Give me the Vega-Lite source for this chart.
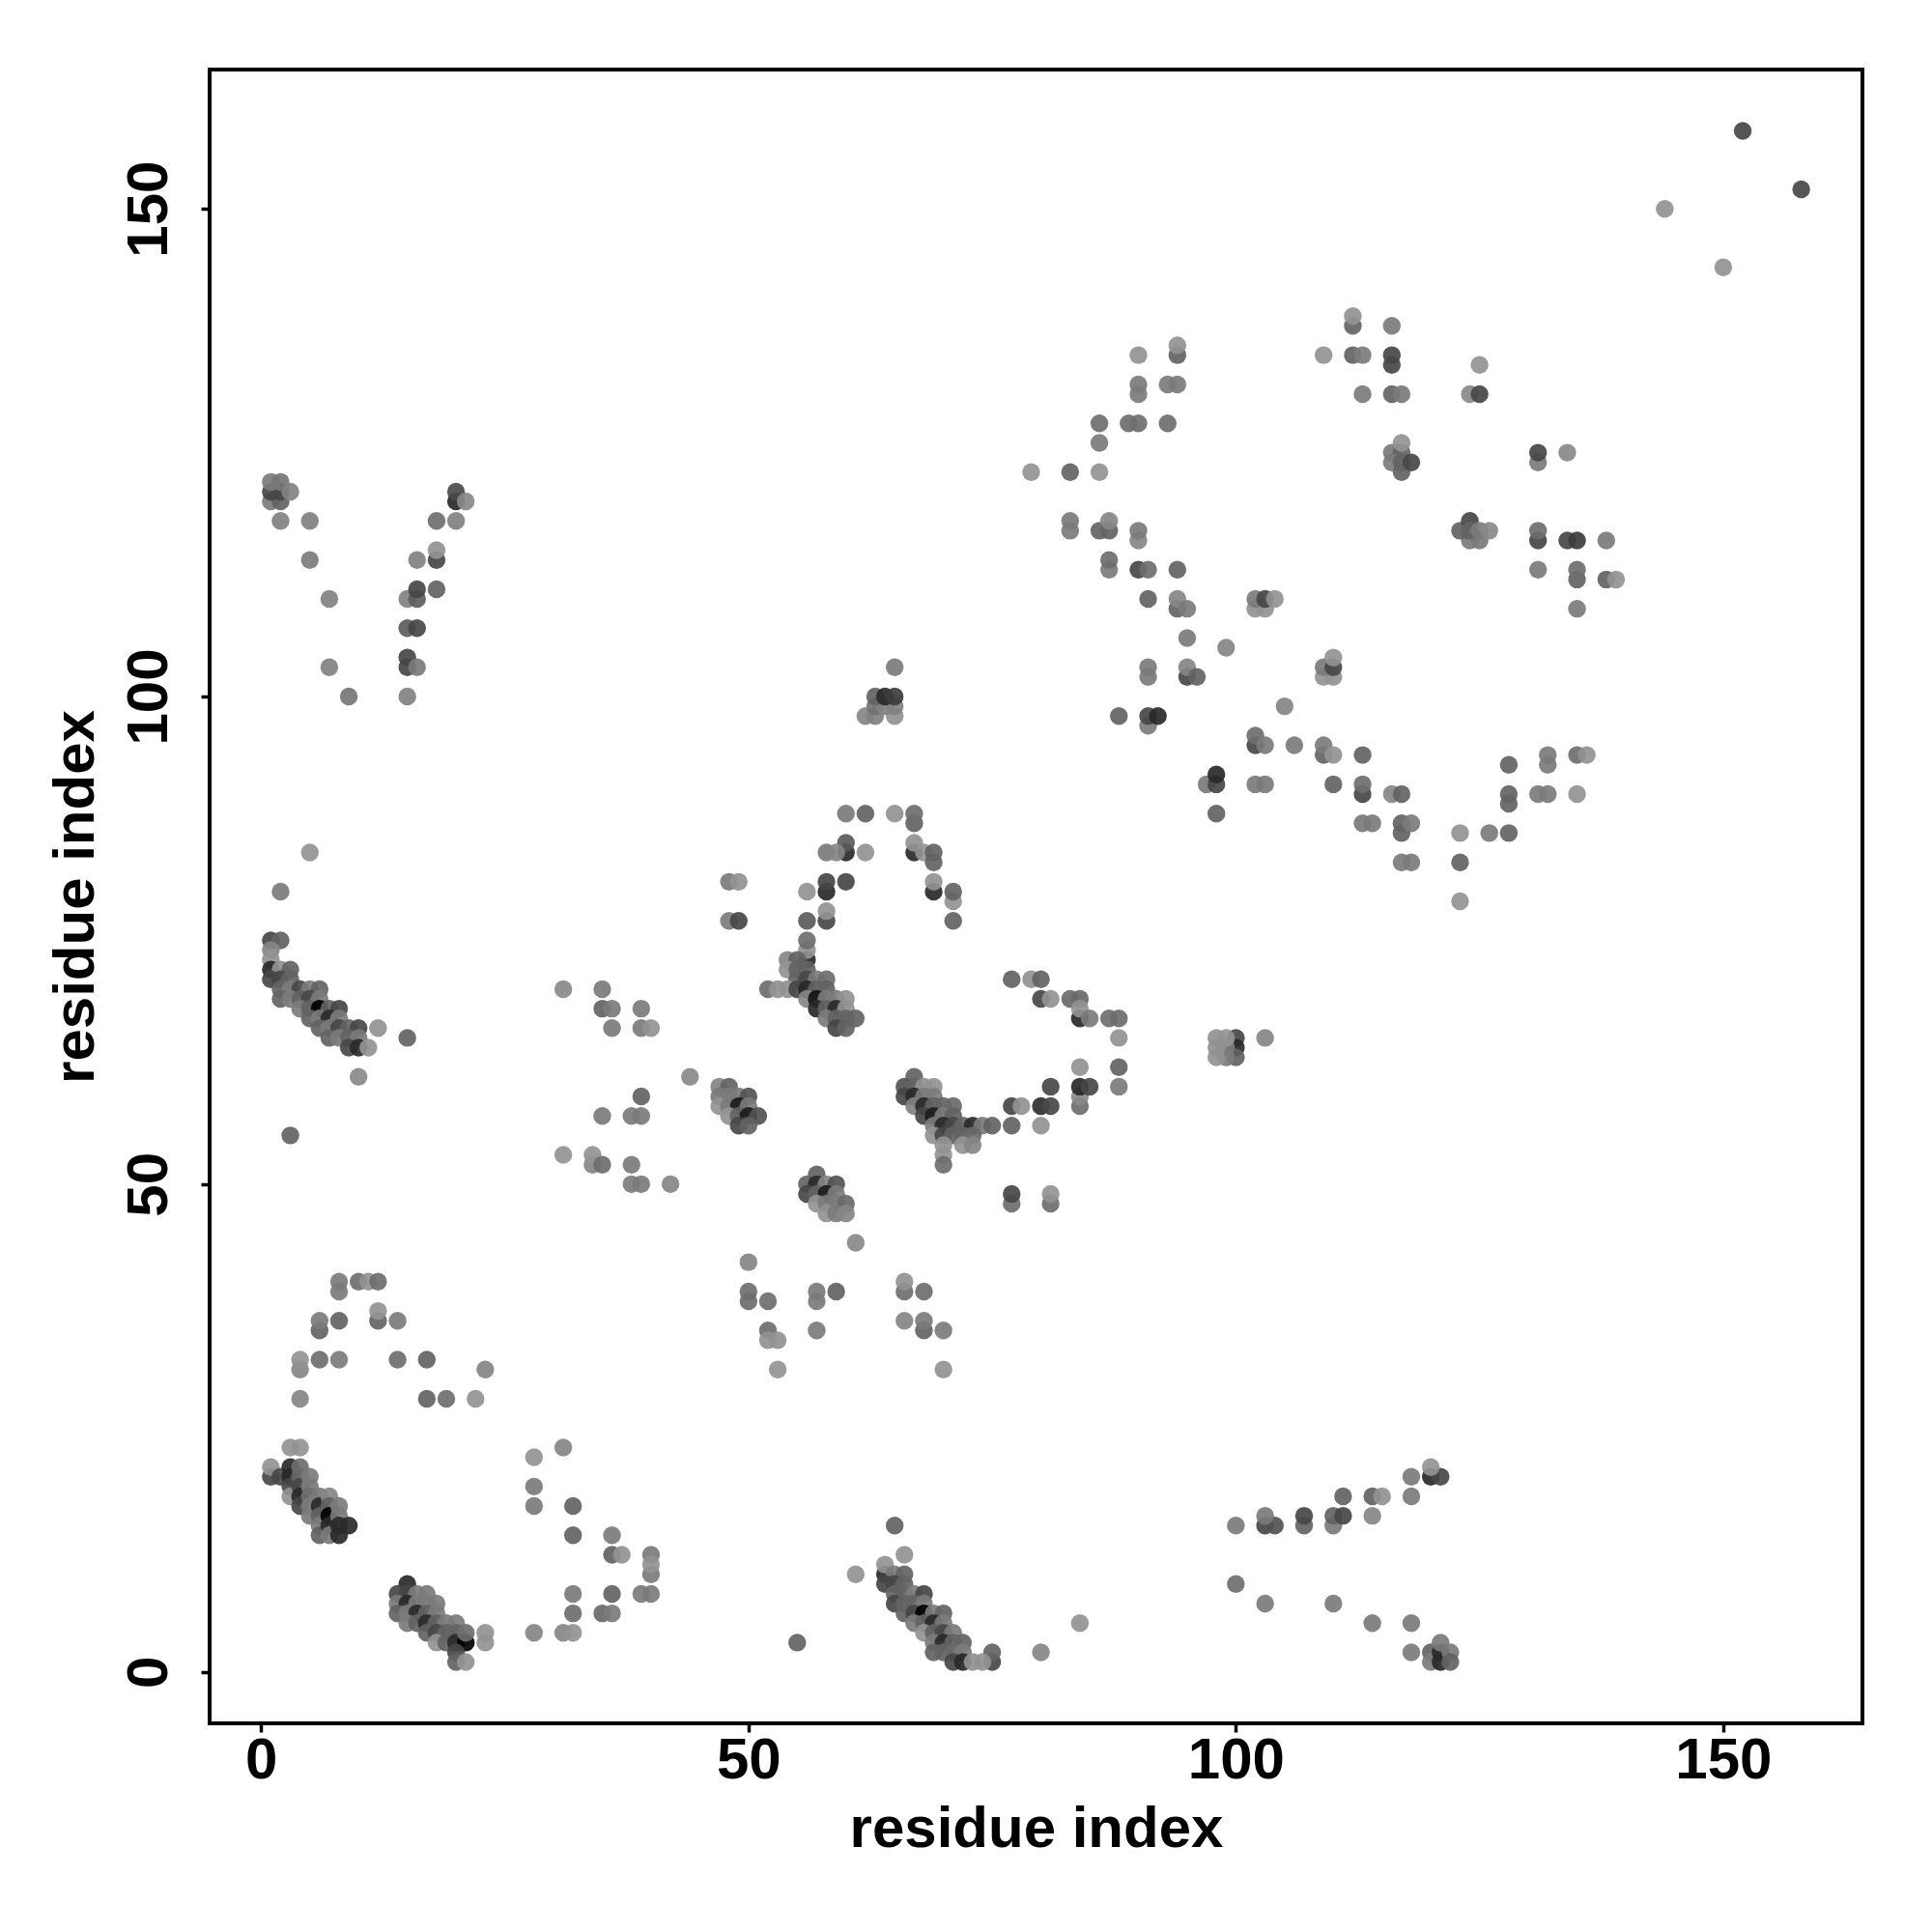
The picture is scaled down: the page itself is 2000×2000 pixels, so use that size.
{"$schema":"https://vega.github.io/schema/vega-lite/v6.json","width":1711,"height":1712,"autosize":{"type":"none"},"padding":{"left":217,"top":72,"right":72,"bottom":216},"background":"white","config":{"view":{"stroke":"black","strokeWidth":4,"fill":"white"},"axis":{"grid":false,"domain":false,"ticks":true,"tickColor":"black","tickWidth":3.5,"tickSize":9,"labelFont":"Liberation Sans","labelFontWeight":"bold","labelFontSize":60,"labelColor":"black","titleFont":"Liberation Sans","titleFontWeight":"bold","titleFontSize":60,"titleColor":"black","labelFlush":false,"labelOverlap":false}},"data":{"values":[
{"x":152,"y":158,"w":0.53},{"x":158,"y":152,"w":0.53},{"x":144,"y":150,"w":0.05},{"x":150,"y":144,"w":0.05},
{"x":112,"y":138,"w":0.34},{"x":116,"y":138,"w":0.19},{"x":112,"y":139,"w":0.05},
{"x":94,"y":135,"w":0.34},{"x":94,"y":136,"w":0.05},{"x":90,"y":135,"w":0.05},{"x":109,"y":135,"w":0.05},{"x":112,"y":135,"w":0.34},{"x":113,"y":135,"w":0.19},{"x":116,"y":134,"w":0.53},{"x":116,"y":135,"w":0.53},{"x":125,"y":134,"w":0.05},
{"x":90,"y":131,"w":0.19},{"x":90,"y":132,"w":0.19},{"x":93,"y":132,"w":0.19},{"x":94,"y":132,"w":0.19},{"x":113,"y":131,"w":0.19},{"x":116,"y":131,"w":0.34},{"x":117,"y":131,"w":0.19},{"x":124,"y":131,"w":0.1},{"x":125,"y":131,"w":0.53},
{"x":86,"y":128,"w":0.27},{"x":89,"y":128,"w":0.27},{"x":90,"y":128,"w":0.27},{"x":93,"y":128,"w":0.27},{"x":86,"y":126,"w":0.19},
{"x":116,"y":125,"w":0.19},{"x":117,"y":125,"w":0.34},{"x":116,"y":124,"w":0.19},{"x":117,"y":124,"w":0.34},{"x":117,"y":123,"w":0.34},{"x":117,"y":126,"w":0.05},{"x":118,"y":124,"w":0.53},
{"x":131,"y":124,"w":0.19},{"x":131,"y":125,"w":0.53},{"x":134,"y":125,"w":0.1},
{"x":79,"y":123,"w":0.05},{"x":83,"y":123,"w":0.34},{"x":86,"y":123,"w":0.05},
{"x":83,"y":117,"w":0.19},{"x":83,"y":118,"w":0.19},{"x":86,"y":117,"w":0.34},{"x":87,"y":117,"w":0.34},{"x":87,"y":118,"w":0.12},{"x":90,"y":116,"w":0.12},{"x":90,"y":117,"w":0.19},
{"x":124,"y":116,"w":0.19},{"x":125,"y":116,"w":0.19},{"x":123,"y":117,"w":0.34},{"x":124,"y":118,"w":0.53},{"x":124,"y":117,"w":0.34},{"x":125,"y":117,"w":0.19},{"x":126,"y":117,"w":0.1},
{"x":131,"y":116,"w":0.53},{"x":131,"y":117,"w":0.27},{"x":134,"y":116,"w":0.53},{"x":135,"y":116,"w":0.6},{"x":138,"y":116,"w":0.19},
{"x":87,"y":113,"w":0.19},{"x":87,"y":114,"w":0.27},{"x":90,"y":113,"w":0.53},{"x":91,"y":113,"w":0.27},{"x":94,"y":113,"w":0.34},{"x":131,"y":113,"w":0.19},{"x":135,"y":112,"w":0.34},{"x":135,"y":113,"w":0.27},{"x":138,"y":112,"w":0.34},{"x":139,"y":112,"w":0.05},
{"x":91,"y":110,"w":0.34},{"x":94,"y":109,"w":0.34},{"x":94,"y":110,"w":0.12},{"x":95,"y":109,"w":0.19},{"x":102,"y":109,"w":0.05},{"x":103,"y":109,"w":0.05},{"x":102,"y":110,"w":0.19},{"x":103,"y":110,"w":0.53},{"x":104,"y":110,"w":0.05},{"x":135,"y":109,"w":0.19},
{"x":95,"y":106,"w":0.19},{"x":99,"y":105,"w":0.12},{"x":91,"y":102,"w":0.19},{"x":91,"y":103,"w":0.19},{"x":95,"y":102,"w":0.53},{"x":95,"y":103,"w":0.12},{"x":96,"y":102,"w":0.34},{"x":109,"y":102,"w":0.05},{"x":110,"y":102,"w":0.05},{"x":109,"y":103,"w":0.19},{"x":110,"y":103,"w":0.53},{"x":110,"y":104,"w":0.05},
{"x":105,"y":99,"w":0.12},{"x":88,"y":98,"w":0.34},{"x":91,"y":97,"w":0.19},{"x":91,"y":98,"w":0.53},{"x":92,"y":98,"w":0.74},
{"x":102,"y":95,"w":0.53},{"x":102,"y":96,"w":0.27},{"x":103,"y":95,"w":0.19},{"x":106,"y":95,"w":0.19},{"x":109,"y":94,"w":0.34},{"x":109,"y":95,"w":0.19},{"x":110,"y":94,"w":0.05},{"x":113,"y":94,"w":0.34},{"x":128,"y":93,"w":0.34},{"x":132,"y":93,"w":0.19},{"x":132,"y":94,"w":0.19},{"x":135,"y":94,"w":0.27},{"x":136,"y":94,"w":0.05},
{"x":97,"y":91,"w":0.19},{"x":98,"y":91,"w":0.53},{"x":98,"y":92,"w":0.74},{"x":102,"y":91,"w":0.19},{"x":103,"y":91,"w":0.19},{"x":110,"y":91,"w":0.34},{"x":113,"y":90,"w":0.53},{"x":113,"y":91,"w":0.27},{"x":116,"y":90,"w":0.12},{"x":117,"y":90,"w":0.34},{"x":128,"y":89,"w":0.34},{"x":128,"y":90,"w":0.34},{"x":131,"y":90,"w":0.19},{"x":132,"y":90,"w":0.19},{"x":135,"y":90,"w":0.05},
{"x":98,"y":88,"w":0.34},{"x":113,"y":87,"w":0.19},{"x":114,"y":87,"w":0.19},{"x":117,"y":86,"w":0.34},{"x":117,"y":87,"w":0.34},{"x":118,"y":87,"w":0.19},{"x":123,"y":86,"w":0.05},{"x":126,"y":86,"w":0.19},{"x":128,"y":86,"w":0.34},
{"x":117,"y":83,"w":0.19},{"x":118,"y":83,"w":0.19},{"x":123,"y":83,"w":0.34},{"x":123,"y":79,"w":0.05},
{"x":60,"y":88,"w":0.19},{"x":62,"y":88,"w":0.34},{"x":65,"y":88,"w":0.05},{"x":67,"y":87,"w":0.34},{"x":67,"y":88,"w":0.27},{"x":60,"y":84,"w":0.74},{"x":60,"y":85,"w":0.4},{"x":58,"y":84,"w":0.19},{"x":59,"y":84,"w":0.12},{"x":62,"y":84,"w":0.05},{"x":67,"y":84,"w":0.74},{"x":67,"y":85,"w":0.05},{"x":68,"y":84,"w":0.05},{"x":69,"y":83,"w":0.34},{"x":69,"y":84,"w":0.34},
{"x":48,"y":81,"w":0.19},{"x":49,"y":81,"w":0.05},{"x":58,"y":80,"w":0.74},{"x":58,"y":81,"w":0.53},{"x":60,"y":81,"w":0.53},{"x":56,"y":80,"w":0.05},{"x":69,"y":80,"w":0.74},{"x":69,"y":81,"w":0.05},{"x":71,"y":79,"w":0.05},{"x":71,"y":80,"w":0.34},
{"x":48,"y":77,"w":0.19},{"x":49,"y":77,"w":0.53},{"x":56,"y":77,"w":0.4},{"x":58,"y":77,"w":0.53},{"x":58,"y":78,"w":0.05},{"x":71,"y":77,"w":0.34},
{"x":56,"y":73,"w":0.74},{"x":56,"y":74,"w":0.05},{"x":56,"y":75,"w":0.27},{"x":54,"y":73,"w":0.12},{"x":55,"y":73,"w":0.34},{"x":54,"y":72,"w":0.05},{"x":55,"y":72,"w":0.34},{"x":56,"y":72,"w":0.34},{"x":55,"y":71,"w":0.34},{"x":56,"y":71,"w":0.53},{"x":57,"y":71,"w":0.19},{"x":58,"y":71,"w":0.27},
{"x":52,"y":70,"w":0.27},{"x":53,"y":70,"w":0.05},{"x":54,"y":70,"w":0.05},{"x":55,"y":70,"w":0.53},{"x":56,"y":70,"w":0.74},{"x":57,"y":70,"w":0.34},{"x":58,"y":70,"w":0.34},{"x":56,"y":69,"w":0.12},{"x":57,"y":69,"w":0.9},{"x":58,"y":69,"w":0.19},{"x":59,"y":69,"w":0.19},{"x":60,"y":69,"w":0.05},
{"x":57,"y":68,"w":0.74},{"x":58,"y":68,"w":0.34},{"x":59,"y":68,"w":0.74},{"x":60,"y":68,"w":0.05},{"x":58,"y":67,"w":0.19},{"x":59,"y":67,"w":0.34},{"x":60,"y":67,"w":0.34},{"x":61,"y":67,"w":0.34},{"x":59,"y":66,"w":0.53},{"x":60,"y":66,"w":0.34},
{"x":47,"y":60,"w":0.12},{"x":48,"y":60,"w":0.34},{"x":47,"y":59,"w":0.19},{"x":48,"y":59,"w":0.19},{"x":49,"y":59,"w":0.19},{"x":50,"y":59,"w":0.45},{"x":47,"y":58,"w":0.05},{"x":48,"y":58,"w":0.19},{"x":49,"y":58,"w":0.85},{"x":50,"y":58,"w":0.19},{"x":48,"y":57,"w":0.05},{"x":49,"y":57,"w":0.34},{"x":50,"y":57,"w":0.85},{"x":51,"y":57,"w":0.45},{"x":49,"y":56,"w":0.53},{"x":50,"y":56,"w":0.34},{"x":44,"y":61,"w":0.1},
{"x":57,"y":51,"w":0.34},{"x":56,"y":50,"w":0.34},{"x":57,"y":50,"w":0.74},{"x":58,"y":50,"w":0.12},{"x":59,"y":50,"w":0.45},{"x":56,"y":49,"w":0.53},{"x":57,"y":49,"w":0.34},{"x":58,"y":49,"w":0.85},{"x":59,"y":49,"w":0.19},{"x":57,"y":48,"w":0.05},{"x":58,"y":48,"w":0.19},{"x":59,"y":48,"w":0.19},{"x":60,"y":48,"w":0.3},{"x":58,"y":47,"w":0.05},{"x":59,"y":47,"w":0.19},{"x":60,"y":47,"w":0.12},{"x":61,"y":44,"w":0.1},
{"x":67,"y":61,"w":0.34},{"x":66,"y":60,"w":0.45},{"x":67,"y":60,"w":0.34},{"x":68,"y":60,"w":0.05},{"x":69,"y":60,"w":0.05},{"x":66,"y":59,"w":0.53},{"x":67,"y":59,"w":0.74},{"x":68,"y":59,"w":0.19},{"x":69,"y":59,"w":0.19},{"x":67,"y":58,"w":0.15},{"x":68,"y":58,"w":0.74},{"x":69,"y":58,"w":0.34},{"x":70,"y":58,"w":0.34},{"x":71,"y":58,"w":0.3},{"x":68,"y":57,"w":0.53},{"x":69,"y":57,"w":0.85},{"x":70,"y":57,"w":0.19},{"x":71,"y":57,"w":0.34},
{"x":69,"y":56,"w":0.19},{"x":70,"y":56,"w":0.74},{"x":71,"y":56,"w":0.53},{"x":72,"y":56,"w":0.34},{"x":73,"y":56,"w":0.74},{"x":74,"y":56,"w":0.19},{"x":75,"y":56,"w":0.34},{"x":77,"y":56,"w":0.34},{"x":80,"y":56,"w":0.05},{"x":69,"y":55,"w":0.05},{"x":70,"y":55,"w":0.53},{"x":71,"y":55,"w":0.34},{"x":72,"y":55,"w":0.34},{"x":73,"y":55,"w":0.3},{"x":70,"y":54,"w":0.05},{"x":72,"y":54,"w":0.05},{"x":73,"y":54,"w":0.12},{"x":70,"y":53,"w":0.05},{"x":70,"y":52,"w":0.27},
{"x":77,"y":58,"w":0.53},{"x":78,"y":58,"w":0.05},{"x":80,"y":58,"w":0.7},{"x":81,"y":58,"w":0.53},{"x":84,"y":58,"w":0.27},{"x":84,"y":59,"w":0.1},{"x":81,"y":60,"w":0.53},{"x":84,"y":60,"w":0.74},{"x":85,"y":60,"w":0.53},{"x":88,"y":60,"w":0.19},{"x":84,"y":62,"w":0.05},{"x":88,"y":62,"w":0.34},
{"x":77,"y":71,"w":0.34},{"x":79,"y":71,"w":0.05},{"x":80,"y":71,"w":0.34},{"x":80,"y":69,"w":0.53},{"x":81,"y":69,"w":0.05},{"x":83,"y":69,"w":0.3},{"x":84,"y":69,"w":0.3},{"x":84,"y":67,"w":0.74},{"x":84,"y":68,"w":0.05},{"x":85,"y":67,"w":0.19},{"x":87,"y":67,"w":0.27},{"x":88,"y":67,"w":0.27},{"x":88,"y":65,"w":0.05},
{"x":77,"y":48,"w":0.27},{"x":77,"y":49,"w":0.53},{"x":81,"y":48,"w":0.27},{"x":81,"y":49,"w":0.05},
{"x":100,"y":65,"w":0.53},{"x":100,"y":64,"w":0.74},{"x":100,"y":63,"w":0.34},{"x":99,"y":63,"w":0.19},{"x":99,"y":64,"w":0.19},{"x":98,"y":63,"w":0.05},{"x":98,"y":64,"w":0.05},{"x":98,"y":65,"w":0.05},{"x":99,"y":65,"w":0.05},{"x":103,"y":65,"w":0.12},
{"x":5,"y":84,"w":0.05},{"x":2,"y":80,"w":0.19},{"x":1,"y":75,"w":0.53},{"x":2,"y":75,"w":0.34},{"x":1,"y":74,"w":0.12},{"x":1,"y":73,"w":0.05},{"x":1,"y":72,"w":0.74},{"x":2,"y":72,"w":0.05},{"x":3,"y":72,"w":0.34},{"x":1,"y":71,"w":0.53},{"x":2,"y":71,"w":0.53},{"x":3,"y":71,"w":0.34},
{"x":2,"y":70,"w":0.34},{"x":3,"y":70,"w":0.19},{"x":4,"y":70,"w":0.53},{"x":5,"y":70,"w":0.19},{"x":6,"y":70,"w":0.34},{"x":2,"y":69,"w":0.34},{"x":3,"y":69,"w":0.19},{"x":4,"y":69,"w":0.34},{"x":5,"y":69,"w":0.53},{"x":6,"y":69,"w":0.19},
{"x":4,"y":68,"w":0.19},{"x":5,"y":68,"w":0.34},{"x":6,"y":68,"w":1},{"x":7,"y":68,"w":0.34},{"x":8,"y":68,"w":0.53},{"x":5,"y":67,"w":0.34},{"x":6,"y":67,"w":0.19},{"x":7,"y":67,"w":0.74},{"x":8,"y":67,"w":0.19},{"x":6,"y":66,"w":0.34},{"x":7,"y":66,"w":0.19},{"x":8,"y":66,"w":0.53},{"x":9,"y":66,"w":0.34},{"x":10,"y":66,"w":0.53},{"x":12,"y":66,"w":0.05},
{"x":7,"y":65,"w":0.34},{"x":8,"y":65,"w":0.19},{"x":9,"y":65,"w":0.34},{"x":10,"y":65,"w":0.19},{"x":15,"y":65,"w":0.34},{"x":9,"y":64,"w":0.53},{"x":10,"y":64,"w":0.74},{"x":11,"y":64,"w":0.05},{"x":10,"y":61,"w":0.1},{"x":3,"y":55,"w":0.34},
{"x":31,"y":70,"w":0.1},{"x":35,"y":70,"w":0.19},{"x":35,"y":68,"w":0.34},{"x":36,"y":68,"w":0.19},{"x":39,"y":68,"w":0.19},{"x":36,"y":66,"w":0.19},{"x":39,"y":66,"w":0.19},{"x":40,"y":66,"w":0.05},{"x":39,"y":59,"w":0.34},{"x":35,"y":57,"w":0.19},{"x":38,"y":57,"w":0.19},{"x":39,"y":57,"w":0.19},{"x":31,"y":53,"w":0.05},{"x":34,"y":52,"w":0.12},{"x":34,"y":53,"w":0.05},{"x":35,"y":52,"w":0.27},{"x":38,"y":52,"w":0.19},{"x":38,"y":50,"w":0.19},{"x":39,"y":50,"w":0.19},{"x":42,"y":50,"w":0.12},
{"x":8,"y":39,"w":0.19},{"x":8,"y":40,"w":0.19},{"x":10,"y":40,"w":0.27},{"x":11,"y":40,"w":0.05},{"x":12,"y":40,"w":0.27},{"x":12,"y":36,"w":0.34},{"x":12,"y":37,"w":0.05},{"x":6,"y":35,"w":0.34},{"x":6,"y":36,"w":0.19},{"x":8,"y":36,"w":0.34},{"x":14,"y":36,"w":0.19},{"x":4,"y":31,"w":0.12},{"x":4,"y":32,"w":0.05},{"x":6,"y":32,"w":0.27},{"x":8,"y":32,"w":0.19},{"x":14,"y":32,"w":0.27},{"x":17,"y":32,"w":0.34},{"x":23,"y":31,"w":0.12},{"x":4,"y":28,"w":0.12},{"x":17,"y":28,"w":0.34},{"x":19,"y":28,"w":0.27},{"x":22,"y":28,"w":0.05},
{"x":3,"y":23,"w":0.05},{"x":4,"y":23,"w":0.05},{"x":1,"y":20,"w":0.53},{"x":1,"y":21,"w":0.05},{"x":2,"y":20,"w":0.53},{"x":3,"y":21,"w":0.74},{"x":3,"y":20,"w":0.74},{"x":3,"y":19,"w":0.53},{"x":3,"y":18,"w":0.05},{"x":4,"y":21,"w":0.27},{"x":4,"y":20,"w":0.3},{"x":4,"y":19,"w":0.53},{"x":4,"y":18,"w":0.74},{"x":4,"y":17,"w":0.53},{"x":5,"y":20,"w":0.19},{"x":5,"y":19,"w":0.19},{"x":5,"y":18,"w":0.27},{"x":5,"y":17,"w":0.19},{"x":5,"y":16,"w":0.19},{"x":6,"y":18,"w":0.19},{"x":6,"y":17,"w":0.74},{"x":6,"y":16,"w":0.34},{"x":6,"y":15,"w":0.19},{"x":6,"y":14,"w":0.34},{"x":7,"y":18,"w":0.12},{"x":7,"y":17,"w":0.34},{"x":7,"y":16,"w":1},{"x":7,"y":15,"w":0.74},{"x":7,"y":14,"w":0.19},{"x":8,"y":17,"w":0.19},{"x":8,"y":16,"w":0.19},{"x":8,"y":15,"w":0.74},{"x":8,"y":14,"w":0.74},{"x":9,"y":15,"w":0.74},
{"x":15,"y":9,"w":0.74},{"x":14,"y":8,"w":0.53},{"x":15,"y":8,"w":0.53},{"x":16,"y":8,"w":0.19},{"x":17,"y":8,"w":0.19},{"x":14,"y":7,"w":0.19},{"x":15,"y":7,"w":0.74},{"x":16,"y":7,"w":0.19},{"x":17,"y":7,"w":0.19},{"x":18,"y":7,"w":0.19},{"x":14,"y":6,"w":0.34},{"x":15,"y":6,"w":0.19},{"x":16,"y":6,"w":0.74},{"x":17,"y":6,"w":0.34},{"x":18,"y":6,"w":0.19},{"x":15,"y":5,"w":0.19},{"x":16,"y":5,"w":0.34},{"x":17,"y":5,"w":0.74},{"x":18,"y":5,"w":0.34},{"x":19,"y":5,"w":0.19},{"x":20,"y":5,"w":0.19},{"x":17,"y":4,"w":0.34},{"x":18,"y":4,"w":0.53},{"x":19,"y":4,"w":0.34},{"x":20,"y":4,"w":0.34},{"x":18,"y":3,"w":0.05},{"x":19,"y":3,"w":0.34},{"x":20,"y":3,"w":0.74},{"x":21,"y":3,"w":1},{"x":21,"y":4,"w":0.27},{"x":20,"y":2,"w":0.53},{"x":20,"y":1,"w":0.34},{"x":21,"y":1,"w":0.05},{"x":23,"y":3,"w":0.05},{"x":23,"y":4,"w":0.05},
{"x":28,"y":4,"w":0.12},{"x":31,"y":4,"w":0.12},{"x":32,"y":4,"w":0.05},{"x":31,"y":23,"w":0.12},{"x":28,"y":22,"w":0.05},{"x":28,"y":19,"w":0.19},{"x":28,"y":17,"w":0.19},{"x":32,"y":17,"w":0.34},{"x":32,"y":14,"w":0.34},{"x":36,"y":14,"w":0.19},{"x":36,"y":12,"w":0.34},{"x":37,"y":12,"w":0.05},{"x":40,"y":12,"w":0.19},{"x":40,"y":10,"w":0.19},{"x":40,"y":11,"w":0.05},{"x":32,"y":8,"w":0.19},{"x":36,"y":8,"w":0.34},{"x":39,"y":8,"w":0.19},{"x":40,"y":8,"w":0.19},{"x":32,"y":6,"w":0.27},{"x":35,"y":6,"w":0.3},{"x":36,"y":6,"w":0.19},
{"x":50,"y":42,"w":0.12},{"x":50,"y":39,"w":0.27},{"x":50,"y":38,"w":0.27},{"x":52,"y":38,"w":0.27},{"x":52,"y":35,"w":0.27},{"x":52,"y":34,"w":0.05},{"x":53,"y":34,"w":0.05},{"x":53,"y":31,"w":0.05},
{"x":57,"y":38,"w":0.19},{"x":57,"y":39,"w":0.19},{"x":59,"y":39,"w":0.34},{"x":66,"y":39,"w":0.27},{"x":66,"y":40,"w":0.05},{"x":68,"y":39,"w":0.27},{"x":66,"y":36,"w":0.12},{"x":68,"y":35,"w":0.34},{"x":68,"y":36,"w":0.19},{"x":57,"y":35,"w":0.19},{"x":70,"y":35,"w":0.19},{"x":70,"y":31,"w":0.05},
{"x":65,"y":15,"w":0.34},{"x":100,"y":15,"w":0.19},{"x":103,"y":15,"w":0.53},{"x":104,"y":15,"w":0.45},{"x":107,"y":15,"w":0.34},{"x":110,"y":15,"w":0.19},{"x":103,"y":16,"w":0.19},{"x":107,"y":16,"w":0.53},{"x":110,"y":16,"w":0.34},{"x":111,"y":16,"w":0.53},{"x":114,"y":16,"w":0.12},{"x":111,"y":18,"w":0.34},{"x":114,"y":18,"w":0.34},{"x":115,"y":18,"w":0.05},{"x":118,"y":18,"w":0.19},{"x":118,"y":20,"w":0.19},{"x":120,"y":20,"w":0.74},{"x":121,"y":20,"w":0.53},{"x":120,"y":21,"w":0.05},
{"x":100,"y":9,"w":0.27},{"x":103,"y":7,"w":0.19},{"x":110,"y":7,"w":0.19},{"x":84,"y":5,"w":0.05},{"x":114,"y":5,"w":0.19},{"x":118,"y":5,"w":0.19},{"x":55,"y":3,"w":0.34},{"x":80,"y":2,"w":0.12},{"x":118,"y":2,"w":0.19},{"x":120,"y":2,"w":0.34},{"x":120,"y":1,"w":0.19},{"x":121,"y":2,"w":0.74},{"x":121,"y":1,"w":0.74},{"x":121,"y":3,"w":0.19},{"x":122,"y":2,"w":0.19},{"x":122,"y":1,"w":0.34},
{"x":66,"y":12,"w":0.05},{"x":61,"y":10,"w":0.05},{"x":64,"y":10,"w":0.74},{"x":64,"y":11,"w":0.05},{"x":65,"y":10,"w":0.19},{"x":66,"y":10,"w":0.34},{"x":64,"y":9,"w":0.53},{"x":65,"y":9,"w":0.53},{"x":66,"y":9,"w":0.34},{"x":65,"y":8,"w":0.34},{"x":66,"y":8,"w":0.34},{"x":67,"y":8,"w":0.19},{"x":68,"y":8,"w":0.53},{"x":65,"y":7,"w":0.53},{"x":66,"y":7,"w":0.34},{"x":67,"y":7,"w":0.34},{"x":68,"y":7,"w":0.19},{"x":66,"y":6,"w":0.34},{"x":67,"y":6,"w":0.53},{"x":68,"y":6,"w":1},{"x":69,"y":6,"w":0.19},{"x":70,"y":6,"w":0.34},{"x":67,"y":5,"w":0.19},{"x":68,"y":5,"w":0.34},{"x":69,"y":5,"w":0.74},{"x":70,"y":5,"w":0.19},{"x":68,"y":4,"w":0.05},{"x":69,"y":4,"w":0.34},{"x":70,"y":4,"w":0.53},{"x":71,"y":4,"w":0.19},{"x":69,"y":3,"w":0.19},{"x":70,"y":3,"w":0.74},{"x":71,"y":3,"w":0.34},{"x":72,"y":3,"w":0.34},{"x":69,"y":2,"w":0.34},{"x":70,"y":2,"w":0.34},{"x":71,"y":2,"w":0.3},{"x":72,"y":2,"w":0.19},{"x":75,"y":1,"w":0.53},{"x":75,"y":2,"w":0.34},{"x":71,"y":1,"w":0.53},{"x":72,"y":1,"w":0.74},{"x":73,"y":1,"w":0.05},{"x":74,"y":1,"w":0.05},
{"x":1,"y":120,"w":0.19},{"x":2,"y":120,"w":0.34},{"x":1,"y":121,"w":0.53},{"x":2,"y":121,"w":0.53},{"x":1,"y":122,"w":0.19},{"x":2,"y":122,"w":0.22},{"x":3,"y":121,"w":0.15},{"x":2,"y":118,"w":0.15},{"x":5,"y":118,"w":0.15},{"x":5,"y":114,"w":0.19},{"x":7,"y":110,"w":0.15},{"x":7,"y":103,"w":0.15},{"x":9,"y":100,"w":0.22},
{"x":20,"y":120,"w":0.74},{"x":20,"y":121,"w":0.5},{"x":21,"y":120,"w":0.1},{"x":18,"y":118,"w":0.27},{"x":20,"y":118,"w":0.15},{"x":18,"y":114,"w":0.53},{"x":18,"y":115,"w":0.05},{"x":16,"y":114,"w":0.15},{"x":15,"y":110,"w":0.15},{"x":16,"y":110,"w":0.38},{"x":16,"y":111,"w":0.53},{"x":18,"y":111,"w":0.34},{"x":15,"y":107,"w":0.38},{"x":16,"y":107,"w":0.53},{"x":15,"y":103,"w":0.53},{"x":15,"y":104,"w":0.53},{"x":16,"y":103,"w":0.2},{"x":15,"y":100,"w":0.15},
{"x":62,"y":98,"w":0.12},{"x":63,"y":98,"w":0.15},{"x":65,"y":98,"w":0.05},{"x":63,"y":99,"w":0.25},{"x":64,"y":99,"w":0.15},{"x":65,"y":99,"w":0.15},{"x":63,"y":100,"w":0.34},{"x":64,"y":100,"w":0.74},{"x":65,"y":100,"w":0.6},{"x":65,"y":103,"w":0.19}
]},"mark":{"type":"point","shape":"circle","filled":true,"opacity":0.92},"encoding":{"x":{"field":"x","type":"quantitative","scale":{"domain":[-5.28,164.28],"nice":false,"zero":false},"axis":{"title":"residue index","values":[0,50,100,150],"labelPadding":0,"titlePadding":12}},"y":{"field":"y","type":"quantitative","scale":{"domain":[-5.28,164.28],"nice":false,"zero":false},"axis":{"title":"residue index","values":[0,50,100,150],"labelAngle":-90,"labelAlign":"center","labelBaseline":"bottom","labelPadding":23,"titlePadding":15}},"color":{"field":"w","type":"quantitative","scale":{"domain":[0,1],"range":["#9a9a9a","#000000"]},"legend":null},"size":{"value":340}}}
